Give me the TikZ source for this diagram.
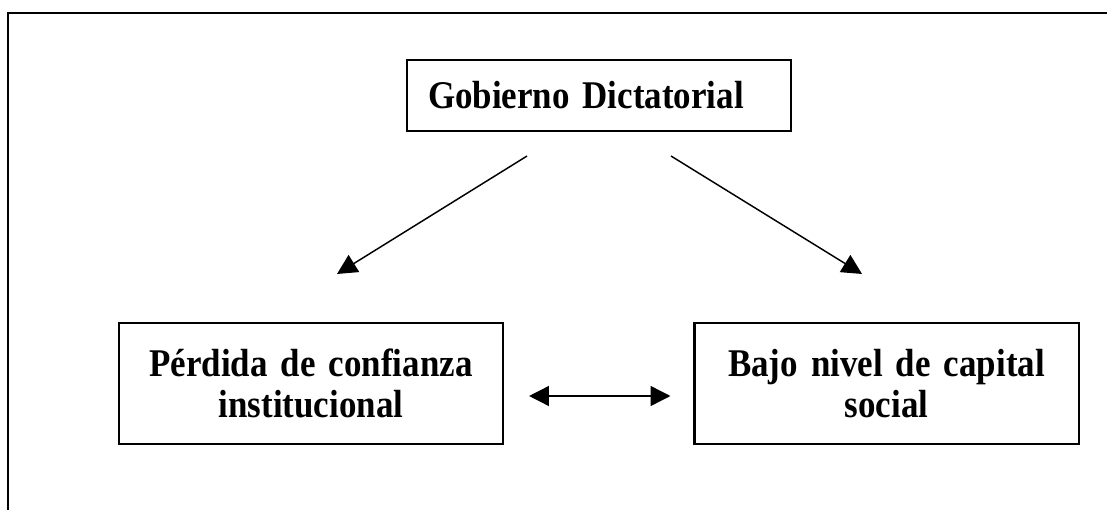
\documentclass[tikz,border=0pt]{standalone}
\usepackage{fontspec}
\setmainfont{Liberation Serif}[FakeStretch=0.89]
\usepackage{tikz}
\usetikzlibrary{arrows.meta}

\begin{document}
\begin{tikzpicture}[
	>={Triangle[length=6.8pt,width=6.8pt]},
	caja/.style={shape=rectangle,draw=black,line width=0.7pt,minimum width=4.608cm,font=\fontsize{13.4pt}{14pt}\selectfont\bfseries},
	flecha/.style={line width=0.5pt}]
	\useasboundingbox (0,0) rectangle (13.284,6.12);
	\draw[line width=0.7pt] (0.096,0) -- (0.096,5.964) -- (13.284,5.964);

	\node[caja,minimum height=0.852cm,inner xsep=0.252cm,text width=4.104cm,align=left] (g) at (7.188,4.974) {Gobierno Dictatorial};
	\node[caja,minimum height=1.452cm,text width=4.2cm,align=center] (p) at (3.732,1.518) {Pérdida de confianza\\ institucional};
	\node[caja,minimum height=1.452cm,text width=4.2cm,align=center] (b) at (10.638,1.518) {Bajo nivel de capital\\ social};

	\coordinate (g1) at ([shift={(-0.864,-0.288)}]g.south);
	\coordinate (g2) at ([shift={(0.864,-0.288)}]g.south);
	\coordinate (p1) at ([shift={(0.312,0.576)}]p.north);
	\coordinate (b1) at ([shift={(-0.294,0.576)}]b.north);
	\coordinate (p2) at ([yshift=-0.15cm]p.east);
	\coordinate (b2) at ([yshift=-0.15cm]b.west);

	\path[flecha,->] (g1) edge (p1);
	\path[flecha,->] (g2) edge (b1);
	\path[flecha,<->,shorten <=0.3cm,shorten >=0.276cm] (p2) edge (b2);
\end{tikzpicture}
\end{document}
